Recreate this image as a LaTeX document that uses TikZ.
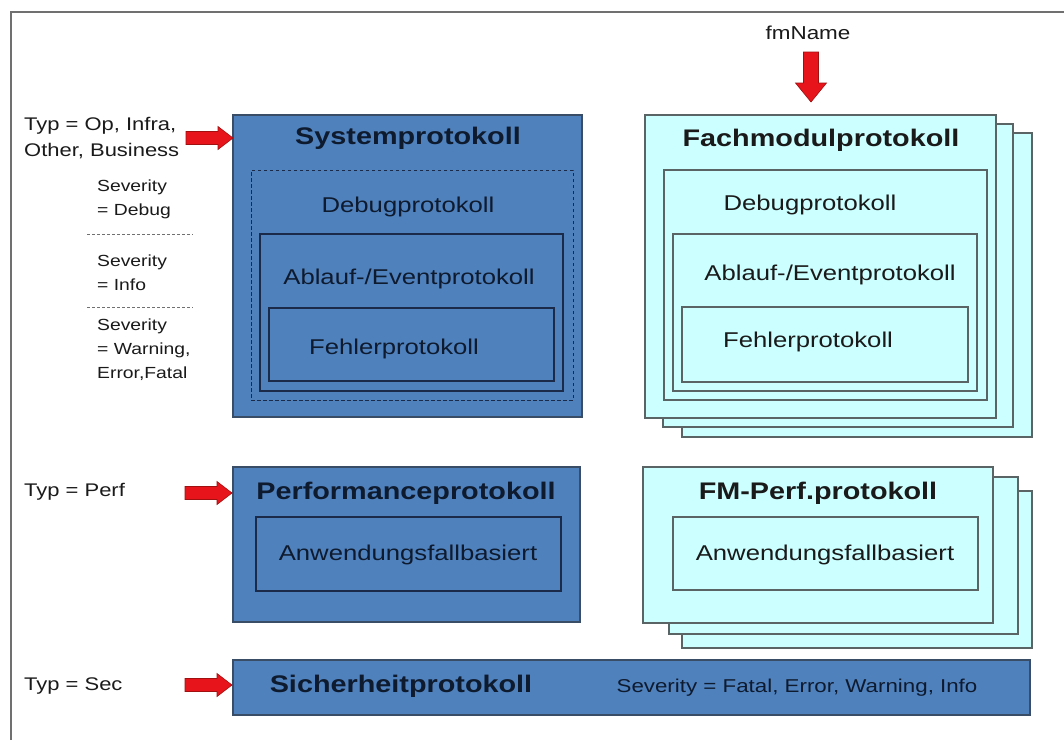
\documentclass[tikz,border=0pt]{standalone}
\usepackage{fontspec}
\setmainfont[FakeStretch=1.2]{Liberation Sans}
\definecolor{boxblue}{HTML}{4F81BD}
\definecolor{bbord}{HTML}{3A4D66}
\definecolor{navy}{HTML}{1A2A48}
\definecolor{boxcyan}{HTML}{CCFFFF}
\definecolor{cbord}{HTML}{5A6464}
\definecolor{arrred}{HTML}{E8141B}
\definecolor{arrbord}{HTML}{A01010}
\definecolor{darktext}{HTML}{0E1A2E}
\definecolor{blacktext}{HTML}{1A1A1A}
\definecolor{framegray}{HTML}{707070}
\begin{document}
\begin{tikzpicture}[x=1pt,y=-1pt,
  bluebox/.style={draw=bbord, fill=boxblue, line width=1.3pt, inner sep=0pt, outer sep=0pt, anchor=north west},
  blueinner/.style={draw=navy, line width=1.2pt, inner sep=0pt, outer sep=0pt, anchor=north west},
  dashbox/.style={draw=navy, dash pattern=on 3.5pt off 2.5pt, line width=1pt, inner sep=0pt, outer sep=0pt, anchor=north west},
  cyanbox/.style={draw=cbord, fill=boxcyan, line width=1.3pt, inner sep=0pt, outer sep=0pt, anchor=north west},
  cyaninner/.style={draw=cbord, line width=1.2pt, inner sep=0pt, outer sep=0pt, anchor=north west},
  ttl/.style={font=\fontsize{24}{28}\selectfont\bfseries, inner sep=0pt},
  txt/.style={font=\fontsize{21.4}{25}\selectfont, inner sep=0pt},
  lbl/.style={font=\fontsize{18.3}{26}\selectfont, text=blacktext, inner sep=0pt, align=left, anchor=west},
  sev/.style={font=\fontsize{16.1}{24}\selectfont, text=blacktext, inner sep=0pt, align=left, anchor=west},
  sep/.style={draw=framegray, dash pattern=on 3pt off 2pt, line width=0.8pt},
  arrowfill/.style={draw=arrbord, fill=arrred, line width=0.6pt, line join=miter},
  framel/.style={draw=framegray, line width=2pt},
  pics/rarrow/.style={code={\filldraw[arrowfill] (-47,-6.5) -- (-15,-6.5) -- (-15,-11.5) -- (0,0) -- (-15,11.5) -- (-15,6.5) -- (-47,6.5) -- cycle;}},
  pics/darrow/.style={code={\filldraw[arrowfill] (-7.5,-50) -- (7.5,-50) -- (7.5,-19) -- (15.5,-19) -- (0,0) -- (-15.5,-19) -- (-7.5,-19) -- cycle;}}
]
\useasboundingbox (0,0) rectangle (1064,740);
\fill[white] (0,0) rectangle (1064,740);
\draw[framel] (11,740) -- (11,12) -- (1064,12);

% Systemprotokoll
\node[bluebox, minimum width=349pt, minimum height=302pt] (sys) at (233,115) {};
\node[dashbox, minimum width=322pt, minimum height=230pt] (sysdbg) at (251,170) {};
\node[blueinner, minimum width=303pt, minimum height=157pt] (sysabl) at (260,234) {};
\node[blueinner, minimum width=285pt, minimum height=73pt] (sysfeh) at (269,308) {};
\node[ttl, text=darktext] (tsys) at (408,138) {Systemprotokoll};
\node[txt, text=darktext] (tsysdbg) at (408,207) {Debugprotokoll};
\node[txt, text=darktext] (tsysabl) at (409,279) {Ablauf-/Eventprotokoll};
\node[txt, text=darktext] (tsysfeh) at (394,349) {Fehlerprotokoll};

% Fachmodulprotokoll stack
\node[cyanbox, minimum width=350pt, minimum height=304pt] (fm3) at (682,133) {};
\node[cyanbox, minimum width=350pt, minimum height=303pt] (fm2) at (663,124) {};
\node[cyanbox, minimum width=351pt, minimum height=303pt] (fm1) at (645,115) {};
\node[cyaninner, minimum width=323pt, minimum height=230pt] (fmdbg) at (664,170) {};
\node[cyaninner, minimum width=304pt, minimum height=157pt] (fmabl) at (673,234) {};
\node[cyaninner, minimum width=286pt, minimum height=75pt] (fmfeh) at (682,307) {};
\node[ttl, text=blacktext] (tfm) at (821,140) {Fachmodulprotokoll};
\node[txt, text=blacktext] (tfmdbg) at (810,205) {Debugprotokoll};
\node[txt, text=blacktext] (tfmabl) at (830,275) {Ablauf-/Eventprotokoll};
\node[txt, text=blacktext] (tfmfeh) at (808,342) {Fehlerprotokoll};

% fmName
\node[font=\fontsize{18.7}{22}\selectfont, text=blacktext, inner sep=0pt] (fmname) at (808,33) {fmName};
\coordinate (afmtip) at (811,102);
\pic at (afmtip) {darrow};

% Performance
\node[bluebox, minimum width=347pt, minimum height=155pt] (perf) at (233,467) {};
\node[blueinner, minimum width=305pt, minimum height=74pt] (perfin) at (256,517) {};
\node[ttl, text=darktext] (tperf) at (406,493) {Performanceprotokoll};
\node[txt, text=darktext] (tperfin) at (408,555) {Anwendungsfallbasiert};

% FM-Perf stack
\node[cyanbox, minimum width=350pt, minimum height=157pt] (fp3) at (682,491) {};
\node[cyanbox, minimum width=349pt, minimum height=157pt] (fp2) at (669,477) {};
\node[cyanbox, minimum width=350pt, minimum height=156pt] (fp1) at (643,467) {};
\node[cyaninner, minimum width=305pt, minimum height=73pt] (fpin) at (673,517) {};
\node[ttl, text=blacktext] (tfp) at (818,493) {FM-Perf.protokoll};
\node[txt, text=blacktext] (tfpin) at (825,555) {Anwendungsfallbasiert};

% Sicherheit
\node[bluebox, minimum width=797pt, minimum height=55pt] (sec) at (233,660) {};
\node[ttl, text=darktext] (tsec) at (401,686) {Sicherheitprotokoll};
\node[font=\fontsize{18.6}{22}\selectfont, text=darktext, inner sep=0pt] (tsecsev) at (797,688) {Severity = Fatal, Error, Warning, Info};

% Left labels
\node[lbl] (typ1) at (24,138) {Typ = Op, Infra,\\Other, Business};
\node[sev] (sev1) at (97,199) {Severity\\= Debug};
\node[sev] (sev2) at (97,273) {Severity\\= Info};
\node[sev] (sev3) at (97,350) {Severity\\= Warning,\\Error,Fatal};
\node[lbl] (typ2) at (24,492) {Typ = Perf};
\node[lbl] (typ3) at (24,686) {Typ = Sec};

\coordinate (s1a) at (87,234);
\coordinate (s1b) at (193,234);
\coordinate (s2a) at (87,307);
\coordinate (s2b) at (193,307);
\draw[sep] (s1a) -- (s1b);
\draw[sep] (s2a) -- (s2b);

% Arrows
\coordinate (a1tip) at (sys.west |- typ1.west);
\coordinate (a2tip) at (232,493);
\coordinate (a3tip) at (232,685);
\pic at (a1tip) {rarrow};
\pic at (a2tip) {rarrow};
\pic at (a3tip) {rarrow};
\end{tikzpicture}
\end{document}
